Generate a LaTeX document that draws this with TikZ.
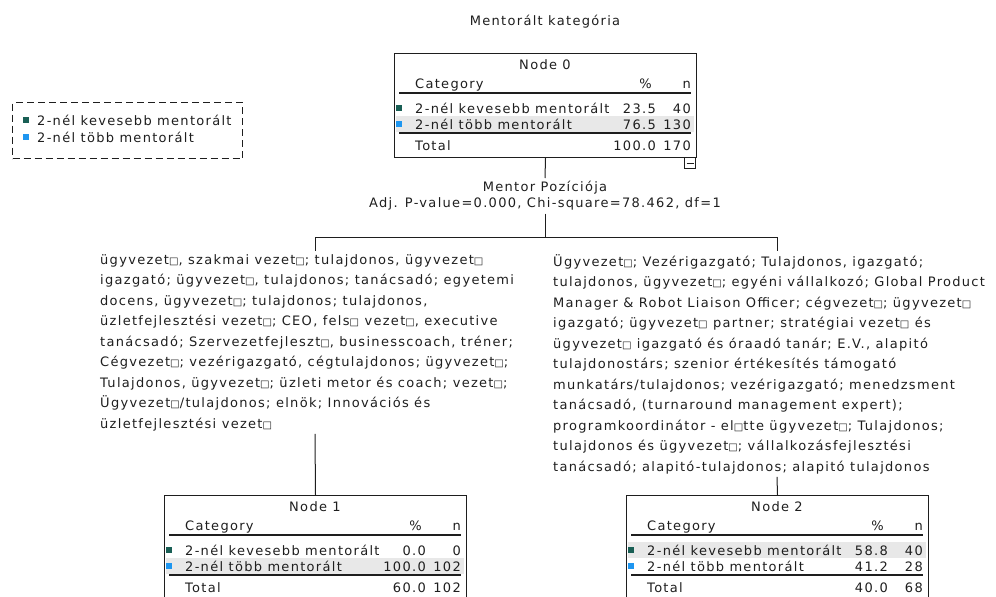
\documentclass[tikz,border=0pt]{standalone}
\usepackage{fontspec}
\setmainfont{DejaVu Sans}[LetterSpace=10]
\newcommand\tofu{{\fontsize{10}{10}\selectfont □}}
\definecolor{cA}{RGB}{25,95,85}
\definecolor{cB}{RGB}{30,150,240}
\definecolor{hl}{RGB}{232,232,232}
\definecolor{ink}{RGB}{30,30,30}
\tikzset{
  txtbase/.style={inner sep=0pt, font=\fontsize{13}{16}\selectfont, text=ink},
  lbl/.style={txtbase, anchor=base},
  lblw/.style={txtbase, anchor=base west},
  lble/.style={txtbase, anchor=base east},
  block/.style={inner xsep=0pt, inner ysep=3pt, font=\fontsize{13}{20.5}\selectfont, text=ink, align=left, anchor=north west},
  rulel/.style={line width=1.2pt, draw=ink},
  conn/.style={line width=1pt, draw=ink},
  frame/.style={draw=ink, line width=1pt, minimum width=302pt, minimum height=104pt, anchor=north west, inner sep=0pt},
}
% #1 name, #2 left x, #3 top y, #4 label, #5 highlighted row centre, #6 p1, #7 n1, #8 p2, #9 n2 ; totals in \tp \tn
\newcommand\catnode[9]{%
  \begin{scope}[shift={(#2,#3)}]
    \fill[hl] (2,#5-8) rectangle (300,#5+8);
    \node[frame] (#1) at (0,0) {};
    \node[lbl] at (151,16) {#4};
    \node[lblw] at (21,35) {Category};
    \node[lble] at (258,35) {\%};
    \node[lble] at (297,35) {n};
    \draw[rulel] (5,40) -- (297,40);
    \fill[cA] (2,52) rectangle (8,58);
    \node[lblw] at (21,60) {2-nél kevesebb mentorált};
    \node[lble] at (262,60) {#6};
    \node[lble] at (297,60) {#7};
    \fill[cB] (2,68) rectangle (8,74);
    \node[lblw] at (21,76) {2-nél több mentorált};
    \node[lble] at (262,76) {#8};
    \node[lble] at (297,76) {#9};
    \draw[rulel] (5,80) -- (297,80);
    \node[lblw] at (21,97) {Total};
    \node[lble] at (262,97) {\tp};
    \node[lble] at (297,97) {\tn};
  \end{scope}}
\begin{document}
\begin{tikzpicture}[x=1pt,y=-1pt]
\useasboundingbox (0,0) rectangle (996,597);
\clip (0,0) rectangle (996,597);
\node[lbl] (title) at (545,25) {Mentorált kategória};
% legend
\node[draw=ink, line width=1pt, dash pattern=on 7pt off 4pt, minimum width=230pt, minimum height=56pt, anchor=north west, inner sep=0pt] (legend) at (12,102) {};
\fill[cA] (23,117) rectangle (29,123);
\node[lblw] (leg1) at (37,125) {2-nél kevesebb mentorált};
\fill[cB] (23,134) rectangle (29,140);
\node[lblw] (leg2) at (37,142) {2-nél több mentorált};
% node 0
\def\tp{100.0}\def\tn{170}
\catnode{n0}{394}{53}{Node 0}{71}{23.5}{40}{76.5}{130}
\node[draw=ink, line width=1pt, minimum size=11pt, inner sep=0pt, anchor=north east] (coll) at (696,157) {};
\draw[conn] ([xshift=2.5pt]coll.west) -- ([xshift=-2.5pt]coll.east);
% split
\node[txtbase, align=center, inner sep=3pt, anchor=north] (split) at (545,178) {Mentor Pozíciója\\Adj. P-value=0.000, Chi-square=78.462, df=1};
\coordinate (j) at (545,237);
\coordinate (jl) at (315,237);
\coordinate (jr) at (777,237);
\draw[conn] (n0.south) -- (split.north);
\draw[conn] (split.south) -- (j);
\draw[conn] (jl) -- (jr);
% left branch
\node[block] (lt) at (100,251) {ügyvezet\tofu, szakmai vezet\tofu; tulajdonos, ügyvezet\tofu\\
igazgató; ügyvezet\tofu, tulajdonos; tanácsadó; egyetemi\\
docens, ügyvezet\tofu; tulajdonos; tulajdonos,\\
üzletfejlesztési vezet\tofu; CEO, fels\tofu{} vezet\tofu, executive\\
tanácsadó; Szervezetfejleszt\tofu, businesscoach, tréner;\\
Cégvezet\tofu; vezérigazgató, cégtulajdonos; ügyvezet\tofu;\\
Tulajdonos, ügyvezet\tofu; üzleti metor és coach; vezet\tofu;\\
Ügyvezet\tofu/tulajdonos; elnök; Innovációs és\\
üzletfejlesztési vezet\tofu};
\draw[conn] (jl) -- (jl |- lt.north);
\def\tp{60.0}\def\tn{102}
\catnode{n1}{164}{495}{Node 1}{71}{0.0}{0}{100.0}{102}
\draw[conn] (lt.south -| jl) -- (n1.north);
% right branch
\node[block] (rt) at (553,251) {Ügyvezet\tofu; Vezérigazgató; Tulajdonos, igazgató;\\
tulajdonos, ügyvezet\tofu; egyéni vállalkozó; Global Product\\
Manager \& Robot Liaison Officer; cégvezet\tofu; ügyvezet\tofu\\
igazgató; ügyvezet\tofu{} partner; stratégiai vezet\tofu{} és\\
ügyvezet\tofu{} igazgató és óraadó tanár; E.V., alapitó\\
tulajdonostárs; szenior értékesítés támogató\\
munkatárs/tulajdonos; vezérigazgató; menedzsment\\
tanácsadó, (turnaround management expert);\\
programkoordinátor - el\tofu tte ügyvezet\tofu; Tulajdonos;\\
tulajdonos és ügyvezet\tofu; vállalkozásfejlesztési\\
tanácsadó; alapitó-tulajdonos; alapitó tulajdonos};
\draw[conn] (jr) -- (jr |- rt.north);
\def\tp{40.0}\def\tn{68}
\catnode{n2}{626}{495}{Node 2}{55}{58.8}{40}{41.2}{28}
\draw[conn] (rt.south -| jr) -- (n2.north);
\end{tikzpicture}
\end{document}
